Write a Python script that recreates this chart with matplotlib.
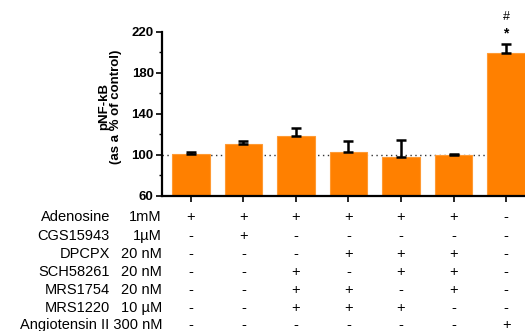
import matplotlib
matplotlib.use("Agg")
import matplotlib.pyplot as plt
from matplotlib.ticker import FixedLocator

plt.rcParams['font.family'] = ['Liberation Sans', 'DejaVu Sans']

values = [100.4, 110.4, 118.5, 103.0, 98.0, 99.7, 199.0]
errors = [2.2, 3.0, 7.3, 10.4, 16.3, 1.3, 8.7]
yticks = [60, 100, 140, 180, 220]
yminor = [80, 120, 160, 200]
row_names = ["Adenosine", "CGS15943", "DPCPX", "SCH58261", "MRS1754", "MRS1220", "Angiotensin II"]
row_conc = ["1mM", "1µM", "20 nM", "20 nM", "20 nM", "10 µM", "300 nM"]
signs = [
    ["+", "+", "+", "+", "+", "+", "-"],
    ["-", "+", "-", "-", "-", "-", "-"],
    ["-", "-", "-", "+", "+", "+", "-"],
    ["-", "-", "+", "-", "+", "+", "-"],
    ["-", "-", "+", "+", "-", "+", "-"],
    ["-", "-", "+", "+", "+", "-", "-"],
    ["-", "-", "-", "-", "-", "-", "+"],
]
annotations = ["*", "#"]

W, H = 525, 331
fig = plt.figure(figsize=(W / 100, H / 100), dpi=100)
ax_left, ax_right = 162 / W, 1.0
ax_top, ax_bot = 1 - 31.7 / H, 1 - 195.7 / H
ax = fig.add_axes([ax_left, ax_bot, ax_right - ax_left, ax_top - ax_bot])

x = list(range(len(values)))
color = '#FF8000'
ax.bar(x, values, width=0.72, color=color, edgecolor='#FF9A33', linewidth=0.8, zorder=2)
ax.errorbar(x, values, yerr=[[0] * len(errors), errors], fmt='none', ecolor='black',
            elinewidth=1.8, capsize=3.5, capthick=1.8, zorder=3)
ax.axhline(100, color='#333333', linestyle=(0, (1, 2.5)), linewidth=1.0, zorder=1)

ax.set_xlim(-0.55, 6.36)
ax.set_ylim(60, 220)
ax.yaxis.set_major_locator(FixedLocator(yticks))
ax.yaxis.set_minor_locator(FixedLocator(yminor))
ax.set_xticks(x)
ax.set_xticklabels([])
for s in ['top', 'right']:
    ax.spines[s].set_visible(False)
for s in ['left', 'bottom']:
    ax.spines[s].set_linewidth(1.6)
ax.tick_params(axis='y', which='major', length=4.5, width=1.2, labelsize=9.5, pad=1.5)
ax.tick_params(axis='y', which='minor', length=2.5, width=1.0)
ax.tick_params(axis='x', which='major', length=4, width=1.2)
for lab in ax.get_yticklabels():
    lab.set_fontweight('bold')

fig.text(110 / W, 1 - 107 / H, "pNF-kB\n(as a % of control)", rotation=90,
         ha='center', va='center', fontsize=9.5, fontweight='bold', linespacing=1.05)

# significance marks
top = values[6] + errors[6]
ax.annotate(annotations[0], (6, top), xytext=(0, 3), textcoords='offset points',
            ha='center', va='bottom', fontsize=10, fontweight='bold', annotation_clip=False)
ax.annotate(annotations[1], (6, top), xytext=(0, 15), textcoords='offset points',
            ha='center', va='bottom', fontsize=9, annotation_clip=False)

# treatment table
row_y = [217.3, 235.7, 254.0, 271.7, 290.0, 308.0, 325.5]
trans = ax.get_xaxis_transform()
fs = 10.5
for i, yp in enumerate(row_y):
    yf = 1 - yp / H
    if i == len(row_y) - 1:
        fig.text(162 / W, yf, row_names[i] + " " + row_conc[i], ha='right', va='center', fontsize=fs)
    else:
        fig.text(110 / W, yf, row_names[i], ha='right', va='center', fontsize=fs)
        fig.text(162 / W, yf, row_conc[i], ha='right', va='center', fontsize=fs)
    for j, s in enumerate(signs[i]):
        ax_y = (yf - ax_bot) / (ax_top - ax_bot)
        ax.text(j, ax_y, s, transform=trans, ha='center', va='center', fontsize=fs,
                clip_on=False)

fig.savefig("out.png", dpi=100)
